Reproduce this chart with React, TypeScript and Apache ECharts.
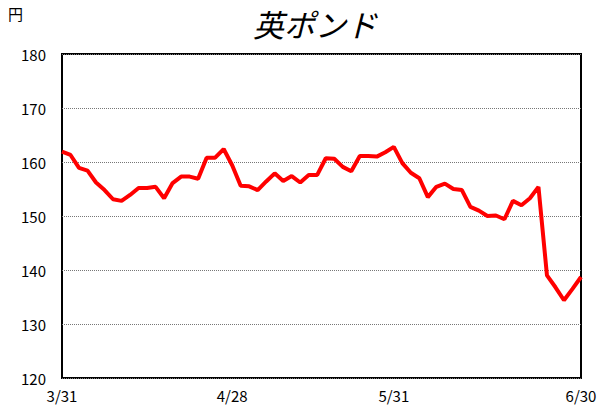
import { useRef, useEffect } from 'react';
import * as echarts from 'echarts';

const dates: string[] = [
    '3/31',
    '4/1', '4/4', '4/5', '4/6', '4/7', '4/8', '4/11', '4/12', '4/13', '4/14', '4/15',
    '4/18', '4/19', '4/20', '4/21', '4/22', '4/25', '4/26', '4/27', '4/28',
    '5/2', '5/6', '5/9', '5/10', '5/11', '5/12', '5/13', '5/16', '5/17', '5/18', '5/19', '5/20',
    '5/23', '5/24', '5/25', '5/26', '5/27', '5/30', '5/31',
    '6/1', '6/2', '6/3', '6/6', '6/7', '6/8', '6/9', '6/10', '6/13', '6/14', '6/15', '6/16', '6/17',
    '6/20', '6/21', '6/22', '6/23', '6/24', '6/27', '6/28', '6/29', '6/30',
];

const gbpJpy: number[] = [
    161.9, 161.3, 158.9, 158.4, 156.2, 154.8, 153.1, 152.8, 153.9, 155.2, 155.2, 155.4,
    153.3, 156.1, 157.3, 157.3, 156.9, 160.8, 160.8, 162.4, 159.4,
    155.6, 155.5, 154.8, 156.4, 157.9, 156.5, 157.4, 156.2, 157.6, 157.6, 160.7,
    160.6, 159.1, 158.3, 161.1, 161.1, 161.0, 161.8, 162.8,
    159.8, 158.0, 157.0, 153.5, 155.4, 156.0, 155.0, 154.8, 151.7, 151.0, 150.0, 150.1,
    149.4, 152.8, 152.0, 153.3, 155.4, 139.0, 136.8, 134.4, 136.5, 138.7,
];

const shownDates = ['3/31', '4/28', '5/31', '6/30'];

const FONT = '"Noto Sans CJK JP", sans-serif';

const App: React.FC = () => {
    const chartRef = useRef<HTMLDivElement>(null);

    useEffect(() => {
        if (!chartRef.current) return;
        const chart = echarts.init(chartRef.current, undefined, { renderer: 'svg' });

        const option: echarts.EChartsOption = {
            animation: false,
            title: {
                text: '英ポンド',
                left: 248,
                top: 3,
                textStyle: { fontFamily: FONT, fontSize: 31, fontWeight: 'normal', fontStyle: 'italic', color: '#000' },
            },
            graphic: [
                {
                    type: 'text',
                    left: 8,
                    top: 6,
                    style: { text: '円', fontFamily: FONT, fontSize: 15, fill: '#000' },
                },
            ],
            grid: {
                left: 62,
                right: 20,
                top: 54,
                bottom: 32,
                show: true,
                borderColor: '#000',
                borderWidth: 2,
            },
            xAxis: {
                type: 'category',
                boundaryGap: false,
                data: dates,
                axisLine: { show: false },
                axisTick: { show: false },
                axisLabel: {
                    interval: (_i: number, v: string) => shownDates.includes(v),
                    showMinLabel: true,
                    showMaxLabel: true,
                    fontFamily: FONT,
                    fontSize: 15,
                    color: '#000',
                    margin: 10,
                },
            },
            yAxis: {
                type: 'value',
                min: 120,
                max: 180,
                interval: 10,
                axisLine: { show: false },
                axisTick: { show: false },
                axisLabel: { fontFamily: FONT, fontSize: 15, color: '#000', margin: 16 },
                splitLine: { lineStyle: { color: '#777', type: 'dotted', width: 1 } },
            },
            series: [
                {
                    type: 'line',
                    data: gbpJpy,
                    symbol: 'none',
                    lineStyle: { color: '#ff0000', width: 4 },
                },
            ],
        };

        chart.setOption(option);
        return () => chart.dispose();
    }, []);

    return (
        <div
            ref={chartRef}
            style={{ position: 'absolute', left: 0, top: 0, width: '601px', height: '410px', background: '#fff' }}
        />
    );
};

export default App;
